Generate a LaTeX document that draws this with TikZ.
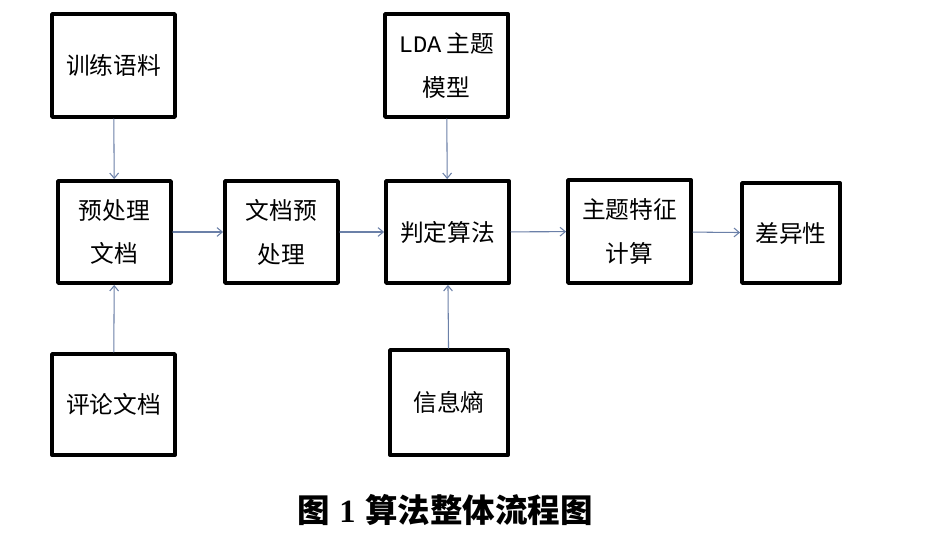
\documentclass[tikz,border=0pt]{standalone}
\usepackage{fontspec}
\newfontfamily\cjk{Noto Sans CJK SC}
\newfontfamily\latinmono{Liberation Mono}
\newfontfamily\capserif{Liberation Serif}
\usetikzlibrary{arrows.meta}
\usetikzlibrary{positioning}
\definecolor{linkblue}{rgb}{0.42, 0.50, 0.66}

\begin{document}
\begin{tikzpicture}[line cap=round,line join=round,x=0.02cm,y=-0.02cm,
  box/.style={draw=black,line width=2.2pt,rectangle,align=center,font=\cjk\fontsize{13.5}{25}\selectfont,inner sep=0pt},
  link/.style={draw=linkblue,line width=0.6pt,-{Straight Barb[length=3pt,width=5pt]}}]
\useasboundingbox (0,0) rectangle (945,537);
\node [box,minimum width=2.46cm,minimum height=2.06cm] (train) at (113.5,65.5) {训练语料};
\node [box,minimum width=2.46cm,minimum height=2.06cm] (lda) at (446.5,65.5) {{\latinmono LDA} 主题\\模型};
\node [box,minimum width=2.26cm,minimum height=2.04cm] (pre) at (114.5,232) {预处理\\文档};
\node [box,minimum width=2.26cm,minimum height=2.04cm] (docpre) at (281.5,232) {文档预\\处理};
\node [box,minimum width=2.46cm,minimum height=2.04cm] (judge) at (447.5,232) {判定算法};
\node [box,minimum width=2.46cm,minimum height=2.06cm] (feat) at (629.5,231.5) {主题特征\\计算};
\node [box,minimum width=1.96cm,minimum height=2.00cm] (diff) at (791,233) {差异性};
\node [box,minimum width=2.46cm,minimum height=2.02cm] (review) at (113.5,404.5) {评论文档};
\node [box,minimum width=2.36cm,minimum height=2.10cm] (entropy) at (449,402.5) {信息熵};
\node [font=\fontsize{18.5}{20}\selectfont] (cap) at (445,510) {{\cjk\bfseries 图} {\capserif\bfseries 1} {\cjk\bfseries 算法整体流程图}};
% connectors
\draw [link] (train) -- (pre);
\draw [link] (review) -- (pre);
\draw [link] (lda) -- (judge);
\draw [link] (entropy) -- (judge);
\foreach \a/\b in {pre/docpre,docpre/judge,judge/feat,feat/diff}
\draw [link] (\a) -- (\b);
\end{tikzpicture}
\end{document}
